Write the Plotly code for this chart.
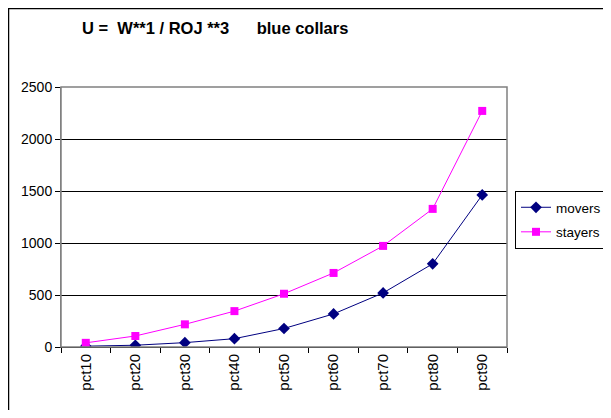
import plotly.graph_objects as go

categories = ["pct10", "pct20", "pct30", "pct40", "pct50", "pct60", "pct70", "pct80", "pct90"]
movers = [8, 17, 42, 80, 178, 318, 520, 800, 1462]
stayers = [40, 106, 218, 345, 512, 712, 972, 1328, 2270]

FONT = "Liberation Sans, Arial, sans-serif"

# the page puts the figure 8px in from the corner, so work in page pixels
OFF = 8
W, H = 611 - 2 * OFF, 418 - 2 * OFF
L, R, T, B = 61, 507, 87, 347  # plot area on the page
pw, ph = R - L, B - T


def px_x(x):
    return (x - L) / pw


def px_y(y):
    return (B - y) / ph


fig = go.Figure()
fig.add_trace(go.Scatter(
    x=categories, y=movers, name="movers", mode="lines+markers",
    legendgroup="movers",
    line=dict(color="#000080", width=1),
    marker=dict(symbol="diamond", size=9, color="#000080"),
))
fig.add_trace(go.Scatter(
    x=categories, y=stayers, name="stayers", mode="lines+markers",
    legendgroup="stayers",
    line=dict(color="#FF00FF", width=1),
    marker=dict(symbol="square", size=8, color="#FF00FF"),
))

fig.update_layout(
    width=W, height=H,
    margin=dict(l=L - OFF, r=W - (R - OFF), t=T - OFF, b=H - (B - OFF),
                autoexpand=False),
    paper_bgcolor="white", plot_bgcolor="white",
    font=dict(family=FONT, size=14, color="black"),
    showlegend=True,
    legend=dict(
        x=px_x(515), y=px_y(191), xanchor="left", yanchor="top",
        bordercolor="black", borderwidth=1, bgcolor="white",
        font=dict(size=13.5), tracegroupgap=4,
    ),
    annotations=[dict(
        text="<b>U =  W**1 / ROJ **3      blue collars</b>",
        xref="paper", yref="paper", x=px_x(215), y=px_y(28),
        xanchor="center", yanchor="middle", showarrow=False,
        font=dict(size=16.5, family=FONT),
    )],
    shapes=[
        dict(type="rect", xref="paper", yref="paper",
             x0=px_x(OFF + 0.5), x1=px_x(640), y0=px_y(440), y1=px_y(OFF + 0.5),
             line=dict(color="black", width=1.5), layer="below"),
        dict(type="rect", xref="paper", yref="paper",
             x0=0, x1=1, y0=0, y1=1,
             line=dict(color="#808080", width=1.5)),
    ],
)

fig.update_xaxes(
    type="category", range=[-0.5, 8.5], tickangle=-90,
    showline=True, linecolor="black", linewidth=1,
    ticks="outside", ticklen=5, tickcolor="black", tickson="boundaries",
    showgrid=False, tickfont=dict(size=15),
)
fig.update_yaxes(
    range=[0, 2500], dtick=500,
    showline=True, linecolor="#808080", linewidth=1,
    ticks="outside", ticklen=5, tickcolor="black",
    showgrid=True, gridcolor="black", gridwidth=1,
    zeroline=False, tickfont=dict(size=14),
)

fig.write_html("out.html")
